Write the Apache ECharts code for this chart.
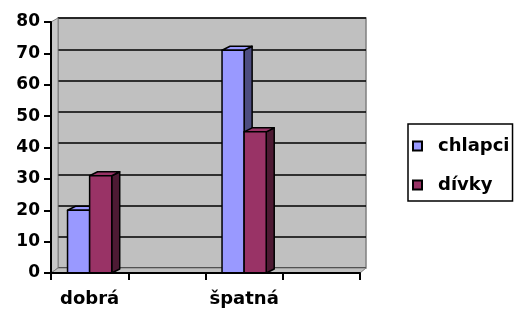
<!DOCTYPE html>
<html>
<head>
<meta charset="utf-8">
<script src="https://cdn.jsdelivr.net/npm/echarts@6/dist/echarts.min.js"></script>
<style>
html, body { margin: 0; padding: 0; background: #fff; }
#chart { width: 515px; height: 309px; }
</style>
</head>
<body>
<div id="chart"></div>
<script>
// data
var categories = ['dobrá', '', 'špatná', ''];
var seriesNames = ['chlapci', 'dívky'];
var chlapci = [20, null, 71, null];
var divky = [31, null, 45, null];
var yMin = 0, yMax = 80, yStep = 10;

// looks
var frontColors = ['#9999ff', '#993366'];
var sideColors = ['#4d4d80', '#4d1a33'];
var topColors = ['#9999ff', '#993366'];
var DX = 8, DY = -4;           // 3d depth of the bars
var G0 = { left: 51, top: 22, width: 309, height: 251 };   // front plane
var G1 = { left: 58, top: 18, width: 308, height: 250 };   // back wall
var FONT = 'DejaVu Sans, Verdana, sans-serif';

function toPairs(arr) {
    var out = [];
    arr.forEach(function (v, i) { if (v != null) out.push([i, v]); });
    return out;
}

function bar3d(s) {
    return function (params, api) {
        var cat = api.value(0), val = api.value(1);
        var p = api.coord([cat, val]);
        var p0 = api.coord([cat, 0]);
        var bw = api.size([1, 0])[0] * 0.286;
        var x0 = p[0] - bw + s * bw, x1 = x0 + bw;
        var yT = p[1], yB = p0[1];
        var st = { stroke: '#000', lineWidth: 1.5, lineJoin: 'round' };
        return {
            type: 'group',
            children: [
                { type: 'polygon', shape: { points: [[x1, yT], [x1 + DX, yT + DY], [x1 + DX, yB + DY], [x1, yB]] },
                  style: Object.assign({ fill: sideColors[s] }, st) },
                { type: 'polygon', shape: { points: [[x0, yT], [x0 + DX, yT + DY], [x1 + DX, yT + DY], [x1, yT]] },
                  style: Object.assign({ fill: topColors[s] }, st) },
                { type: 'rect', shape: { x: x0, y: yT, width: bw, height: yB - yT },
                  style: Object.assign({ fill: frontColors[s] }, st) }
            ]
        };
    };
}

var chart = echarts.init(document.getElementById('chart'));

var g0b = G0.top + G0.height, g1b = G1.top + G1.height;
chart.setOption({
    animation: false,
    backgroundColor: '#fff',
    textStyle: { fontFamily: FONT },
    grid: [
        Object.assign({ z: 0 }, G0),
        Object.assign({ show: true, backgroundColor: '#c0c0c0', borderColor: '#808080', borderWidth: 1.5 }, G1)
    ],
    // floor and left wall
    graphic: [
        { type: 'polygon', z: 1, shape: { points: [[G0.left, G0.top], [G1.left, G1.top], [G1.left, g1b], [G0.left, g0b]] },
          style: { fill: '#c8c8c8', stroke: '#808080', lineWidth: 1 } },
        { type: 'polygon', z: 1, shape: { points: [[G0.left, g0b], [G1.left, g1b], [G1.left + G1.width, g1b], [G0.left + G0.width, g0b]] },
          style: { fill: '#c0c0c0', stroke: '#808080', lineWidth: 1 } }
    ],
    legend: {
        orient: 'vertical',
        left: 408,
        top: 124,
        data: seriesNames,
        icon: 'rect',
        itemWidth: 9,
        itemHeight: 9,
        itemGap: 21,
        padding: [13, 3, 7, 4],
        borderColor: '#000',
        borderWidth: 1.5,
        formatter: function (name) { return '{t|' + name + '}'; },
        textStyle: {
            fontFamily: FONT, fontWeight: 'bold', fontSize: 18, color: '#000',
            rich: { t: { fontFamily: FONT, fontWeight: 'bold', fontSize: 18, color: '#000', padding: [0, 0, 0, 11] } }
        }
    },
    xAxis: [
        {
            gridIndex: 0, type: 'category', data: categories, z: 5,
            axisLine: { lineStyle: { color: '#000', width: 2 } },
            axisTick: { show: true, interval: 0, length: 7, lineStyle: { color: '#000', width: 2 } },
            axisLabel: { interval: 0, margin: 17, fontFamily: FONT, fontWeight: 'bold', fontSize: 18, color: '#000' },
            splitLine: { show: false }
        },
        { gridIndex: 1, type: 'value', show: false }
    ],
    yAxis: [
        {
            gridIndex: 0, type: 'value', min: yMin, max: yMax, interval: yStep, z: 5,
            axisLine: { show: true, lineStyle: { color: '#000', width: 2 } },
            axisTick: { show: true, length: 7, lineStyle: { color: '#000', width: 2 } },
            axisLabel: { margin: 11, fontFamily: FONT, fontWeight: 'bold', fontSize: 17, color: '#000' },
            splitLine: { show: false }
        },
        {
            gridIndex: 1, type: 'value', min: yMin, max: yMax, interval: yStep,
            axisLine: { show: false }, axisTick: { show: false }, axisLabel: { show: false },
            splitLine: { show: true, lineStyle: { color: '#000', width: 1.5 } }
        }
    ],
    series: [
        {
            name: seriesNames[0], type: 'custom', xAxisIndex: 0, yAxisIndex: 0, z: 3,
            itemStyle: { color: frontColors[0], borderColor: '#000', borderWidth: 1 },
            renderItem: bar3d(0), data: toPairs(chlapci)
        },
        {
            name: seriesNames[1], type: 'custom', xAxisIndex: 0, yAxisIndex: 0, z: 4,
            itemStyle: { color: frontColors[1], borderColor: '#000', borderWidth: 1 },
            renderItem: bar3d(1), data: toPairs(divky)
        }
    ]
});
</script>
</body>
</html>
